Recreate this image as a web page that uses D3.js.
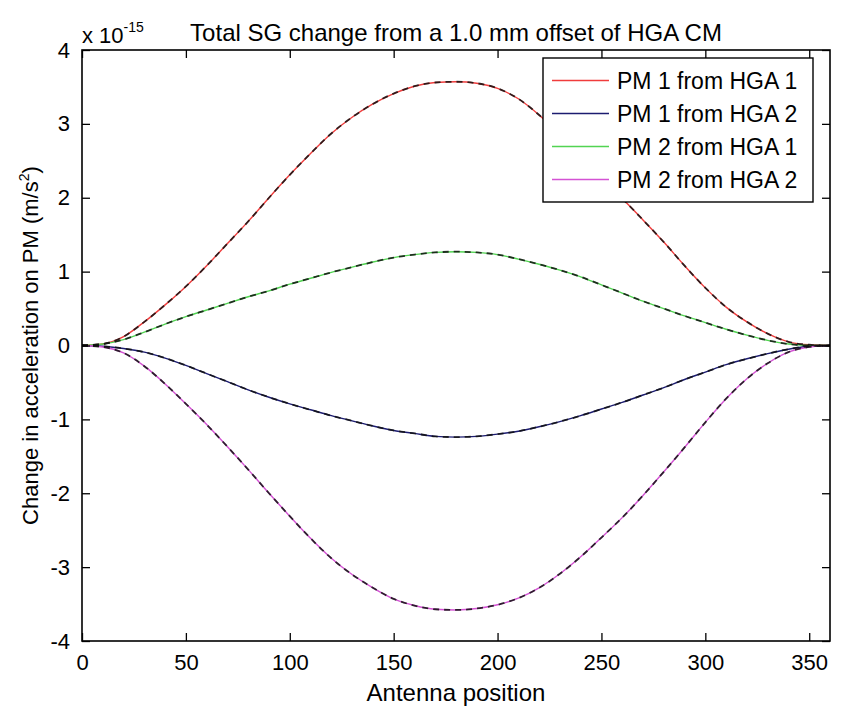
<!DOCTYPE html>
<html><head><meta charset="utf-8">
<script src="https://cdn.jsdelivr.net/npm/d3@7"></script>
<style>body{margin:0;background:#fff} text{font-family:"Liberation Sans",Arial,sans-serif;fill:#000}</style>
</head><body><svg id="c" width="846" height="712"></svg>
<script>
const antennaPos = [0,10,20,30,40,50,60,70,80,90,100,110,120,130,140,150,160,170,180,190,200,210,220,230,240,250,260,270,280,290,300,310,320,330,340,350,360];
const pm1FromHga1 = [0,0.02,0.12,0.32,0.55,0.80,1.08,1.38,1.68,2.00,2.31,2.60,2.87,3.09,3.27,3.41,3.51,3.56,3.57,3.55,3.48,3.34,3.12,2.85,2.57,2.28,1.99,1.70,1.40,1.08,0.78,0.52,0.32,0.16,0.05,0.01,0];
const pm1FromHga2 = [0,-0.01,-0.04,-0.09,-0.17,-0.27,-0.38,-0.49,-0.60,-0.70,-0.79,-0.87,-0.95,-1.02,-1.09,-1.15,-1.19,-1.23,-1.24,-1.23,-1.20,-1.16,-1.10,-1.03,-0.95,-0.86,-0.77,-0.67,-0.57,-0.46,-0.36,-0.26,-0.18,-0.11,-0.05,-0.01,0];
const pm2FromHga1 = [0,0.02,0.08,0.18,0.29,0.39,0.48,0.57,0.66,0.74,0.83,0.91,0.99,1.06,1.13,1.19,1.23,1.26,1.27,1.26,1.23,1.17,1.10,1.02,0.93,0.82,0.71,0.60,0.50,0.40,0.31,0.22,0.14,0.07,0.02,0.0,0];
const pm2FromHga2 = [0,-0.02,-0.10,-0.28,-0.52,-0.79,-1.07,-1.37,-1.68,-2.00,-2.31,-2.61,-2.88,-3.10,-3.28,-3.43,-3.52,-3.57,-3.58,-3.56,-3.51,-3.42,-3.28,-3.09,-2.86,-2.60,-2.33,-2.03,-1.71,-1.38,-1.04,-0.72,-0.45,-0.24,-0.09,-0.02,0];
const seriesNames = ["PM 1 from HGA 1","PM 1 from HGA 2","PM 2 from HGA 1","PM 2 from HGA 2"];
const seriesColors = ["#f03c3c","#1c1c70","#52d452","#d452d4"];
const xTicks = [0,50,100,150,200,250,300,350];
const yTicks = [-4,-3,-2,-1,0,1,2,3,4];
const titleText = "Total SG change from a 1.0 mm offset of HGA CM";
const xLabel = "Antenna position";
const yLabel = "Change in acceleration on PM (m/s";

const seriesValues = [pm1FromHga1, pm1FromHga2, pm2FromHga1, pm2FromHga2];
const W = 846, H = 712;
const m = {left: 82, right: 830, top: 50, bottom: 641};
const svg = d3.select("#c");
svg.append("rect").attr("width", W).attr("height", H).attr("fill", "#fff");

const x = d3.scaleLinear().domain([0, 360]).range([m.left, m.right]);
const y = d3.scaleLinear().domain([-4, 4]).range([m.bottom, m.top]);

const line = d3.line().x((d, i) => x(antennaPos[i])).y(d => y(d)).curve(d3.curveMonotoneX);

const plot = svg.append("g");
seriesValues.forEach((vals, k) => {
  plot.append("path").datum(vals).attr("d", line)
    .attr("fill", "none").attr("stroke", seriesColors[k]).attr("stroke-width", 1.4);
});
seriesValues.forEach((vals, k) => {
  plot.append("path").datum(vals).attr("d", line)
    .attr("fill", "none").attr("stroke", "#111").attr("stroke-opacity", 0.85)
    .attr("stroke-width", 1.8).attr("stroke-dasharray", "6,5");
});

// axes (ticks inside, box on)
const tl = 8;
const fs = 22;
const gx = svg.append("g").attr("transform", `translate(0,${m.bottom})`)
  .call(d3.axisBottom(x).tickValues(xTicks).tickSize(-tl).tickPadding(12).tickFormat(d3.format("d")));
const gxt = svg.append("g").attr("transform", `translate(0,${m.top})`)
  .call(d3.axisTop(x).tickValues(xTicks).tickSize(-tl).tickFormat(""));
const gy = svg.append("g").attr("transform", `translate(${m.left},0)`)
  .call(d3.axisLeft(y).tickValues(yTicks).tickSize(-tl).tickPadding(12).tickFormat(d => d < 0 ? "-" + Math.abs(d) : String(d)));
const gyr = svg.append("g").attr("transform", `translate(${m.right},0)`)
  .call(d3.axisRight(y).tickValues(yTicks).tickSize(-tl).tickFormat(""));
[gx, gxt, gy, gyr].forEach(g => {
  g.select(".domain").remove();
  g.selectAll("line").attr("stroke", "#000").attr("stroke-width", 1.3);
  g.selectAll("text").attr("font-size", fs).attr("font-family", "Liberation Sans, Arial, sans-serif").attr("fill", "#000");
});
gx.selectAll("text").attr("dy", "0").attr("y", 29);

svg.append("rect").attr("x", m.left).attr("y", m.top)
  .attr("width", m.right - m.left).attr("height", m.bottom - m.top)
  .attr("fill", "none").attr("stroke", "#000").attr("stroke-width", 1.6);

// exponent label
const ex = svg.append("text").attr("x", m.left).attr("y", 43).attr("font-size", 22);
ex.append("tspan").text("x 10");
ex.append("tspan").attr("dy", -11).attr("font-size", 14).text("-15");

// title
svg.append("text").attr("x", (m.left + m.right) / 2).attr("y", 41)
  .attr("text-anchor", "middle").attr("font-size", 24).text(titleText);

// x label
svg.append("text").attr("x", (m.left + m.right) / 2).attr("y", 701)
  .attr("text-anchor", "middle").attr("font-size", 24).text(xLabel);

// y label
const yl = svg.append("text").attr("transform", `translate(38,${(m.top + m.bottom) / 2}) rotate(-90)`)
  .attr("text-anchor", "middle").attr("font-size", 22);
yl.append("tspan").text(yLabel);
yl.append("tspan").attr("dy", -9).attr("font-size", 14).text("2");
yl.append("tspan").attr("dy", 9).text(")");

// legend
const lg = svg.append("g");
const lx = 543, ly = 58, lw = 270, lh = 144;
lg.append("rect").attr("x", lx).attr("y", ly).attr("width", lw).attr("height", lh)
  .attr("fill", "#fff").attr("stroke", "#000").attr("stroke-width", 1.4);
const rowY = d3.scaleBand().domain(seriesNames).range([ly + 6, ly + lh - 6]);
seriesNames.forEach((name, k) => {
  const cy = rowY(name) + rowY.bandwidth() / 2;
  lg.append("line").attr("x1", lx + 9).attr("x2", lx + 66).attr("y1", cy).attr("y2", cy)
    .attr("stroke", seriesColors[k]).attr("stroke-width", 1.6);
  lg.append("text").attr("x", lx + 74).attr("y", cy + 8).attr("font-size", 23).text(name);
});
</script></body></html>
